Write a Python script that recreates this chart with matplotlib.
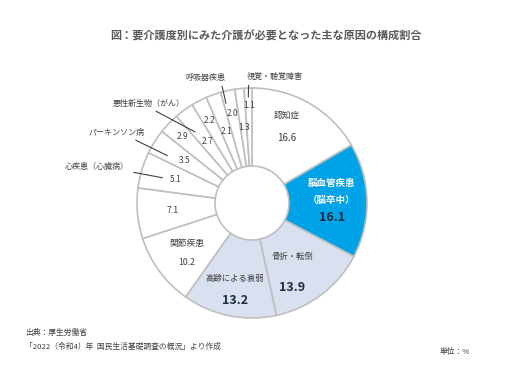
import numpy as np
import matplotlib
matplotlib.use("Agg")
import matplotlib.pyplot as plt

plt.rcParams["font.family"] = ["Noto Sans CJK JP", "DejaVu Sans"]

# data (clockwise from 12 o'clock)
values = [16.6, 16.1, 13.9, 13.2, 10.2, 7.1, 5.1, 3.5, 2.9, 2.7, 2.2, 2.1, 2.0, 1.3, 1.1]
inner_names = ["認知症", "脳血管疾患\n（脳卒中）", "骨折・転倒", "高齢による衰弱", "関節疾患",
               "", "", "", "", "", "", "", "", "", ""]
# outer names with leader lines: (wedge index, text)
outer_names = [(6, "心疾患（心臓病）"), (7, "パーキンソン病"), (9, "悪性新生物（がん）"),
               (12, "呼吸器疾患"), (14, "視覚・聴覚障害")]

title = "図：要介護度別にみた介護が必要となった主な原因の構成割合"
source1 = "出典：厚生労働省"
source2 = "「2022（令和4）年  国民生活基礎調査の概況」より作成"
unit = "単位：%"

BLUE = "#00a3e8"
LIGHT = "#d9e0ef"
EDGE = "#bfbfbf"
TXT = "#404040"
DARK = "#1f2b3e"
colors = ["white", BLUE, LIGHT, LIGHT] + ["white"] * 11

W, H = 526, 373
fig = plt.figure(figsize=(W / 100, H / 100), dpi=100)
ax = fig.add_axes([0, 0, 1, 1])

cx, cy, R = 252, H - 203, 115
ax.pie(values, colors=colors, startangle=90, counterclock=False, center=(cx, cy),
       radius=R, frame=True,
       wedgeprops=dict(width=R - 37, edgecolor=EDGE, linewidth=1.2))
ax.set_xlim(0, W)
ax.set_ylim(0, H)
ax.set_aspect("equal")
ax.axis("off")

cum = np.cumsum([0] + values[:-1])
mid = np.radians(90 - 3.6 * (cum + np.array(values) / 2))


def polar(i, r, dtheta=0.0):
    a = mid[i] + np.radians(dtheta)
    return cx + r * np.cos(a), cy + r * np.sin(a)


# big wedges: name lines + value, stacked around an anchor
# i: (radius, angle shift, line step, value size, value colour, value weight, name size, name colour)
big = {0: (84, 5.3, 23, 7, TXT, "normal", 6.3, TXT),
       1: (80, 0.8, 17, 9, DARK, "bold", 6.8, "white"),
       2: (80, -7.4, 31, 9, DARK, "bold", 6, TXT),
       3: (88, 0.3, 22, 9, DARK, "bold", 6, TXT),
       4: (82, 0.9, 19, 6.3, TXT, "normal", 6.3, TXT)}
for i, (r, dt, step, vs, vc, vw, ns, nc) in big.items():
    x, y = polar(i, r, dt)
    lines = inner_names[i].split("\n")
    n = len(lines) + 1
    top = y + step * (n - 1) / 2
    for k, line in enumerate(lines):
        ax.text(x, top - k * step, line, ha="center", va="center", fontsize=ns,
                color=nc, fontweight="bold" if i == 1 else "normal")
    ax.text(x, top - (n - 1) * step, f"{values[i]:.1f}", ha="center", va="center",
            fontsize=vs, color=vc, fontweight=vw)

# small wedges: value only, staggered radius
small_r = {5: 80, 6: 80, 7: 80, 8: 96, 9: 76, 10: 93, 11: 76, 12: 92, 13: 76, 14: 98}
for i, r in small_r.items():
    x, y = polar(i, r)
    ax.text(x, y, f"{values[i]:.1f}", ha="center", va="center",
            fontsize=6 if i > 5 else 6.3, color=TXT)

# outer labels with leader lines
outer_pos = {6: (97, H - 167, 93, 1, (1.0, 0.0)),
             7: (117, H - 132, 97, 3, (0.7, 0.0)),
             9: (149, H - 103, 91, 2.5, (0.5, 0.0)),
             12: (205, H - 77, 103, 2.4, (0.9, 0.0)),
             14: (275, H - 76, 106, 0, (0.03, 0.0))}
for i, name in outer_names:
    tx, ty, r, dt, rp = outer_pos[i]
    ax.annotate(name, xy=polar(i, r, dt), xytext=(tx, ty), ha="center", va="center",
                fontsize=5.8, color=TXT,
                arrowprops=dict(arrowstyle="-", color="#404040", lw=0.8,
                                shrinkA=1.5, shrinkB=0, relpos=rp))

ax.text(266, H - 36, title, ha="center", va="center", fontsize=8,
        fontweight="bold", color="#595959")
ax.text(25, H - 333, source1, ha="left", va="center", fontsize=5.6, color=TXT)
ax.text(25, H - 347, source2, ha="left", va="center", fontsize=5.6, color=TXT)
ax.text(440, H - 352, unit, ha="left", va="center", fontsize=5.6, color=TXT)

fig.savefig("out.png", dpi=100)
